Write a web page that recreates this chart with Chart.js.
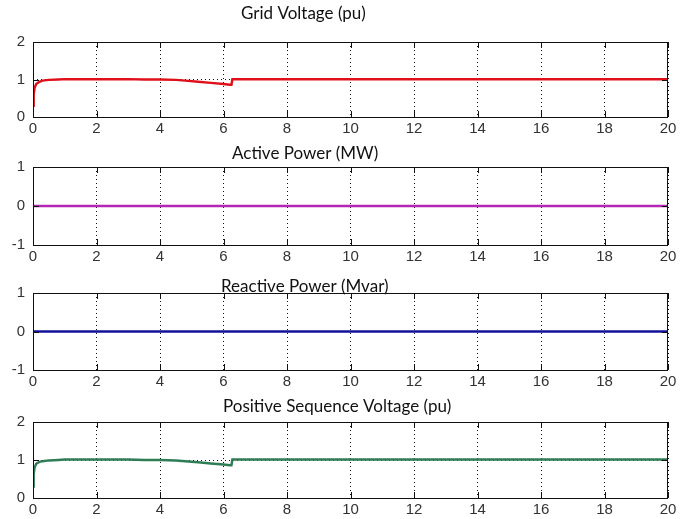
<!DOCTYPE html>
<html>
<head>
<meta charset="utf-8">
<script src="https://cdn.jsdelivr.net/npm/chart.js@4/dist/chart.umd.min.js"></script>
<style>
  body { margin: 0; background: #fff; }
  #wrap { position: relative; width: 688px; height: 519px; }
  #wrap canvas { position: absolute; left: 0; }
</style>
</head>
<body>
<div id="wrap"></div>
<script>
// time axis (s)
const xTicks = [0, 2, 4, 6, 8, 10, 12, 14, 16, 18, 20];

// grid voltage
const gridTime = [0, 0.02, 0.05, 0.1, 0.2, 0.3, 0.5, 0.8, 1.0, 2, 3, 3.5, 4, 4.5, 4.8, 5.2, 5.6, 6.0, 6.2, 6.25, 6.28, 8, 20];
const gridVoltage = [0.3, 0.6, 0.78, 0.88, 0.94, 0.97, 0.99, 1.0, 1.01, 1.01, 1.01, 1.0, 1.0, 0.99, 0.97, 0.94, 0.91, 0.88, 0.86, 0.86, 1.01, 1.01, 1.01];

// active / reactive power stay at zero
const powerTime = [0, 20];
const activePower = [0, 0];
const reactivePower = [0, 0];

// positive sequence voltage, bottom panel
const posTime = [0, 0.02, 0.05, 0.1, 0.2, 0.3, 0.5, 0.8, 1.0, 2, 3, 3.5, 4, 4.5, 4.8, 5.2, 5.6, 6.0, 6.2, 6.25, 6.28, 8, 20];
const posVoltage = [0.3, 0.62, 0.8, 0.9, 0.95, 0.97, 0.99, 1.0, 1.01, 1.01, 1.01, 1.0, 1.0, 0.99, 0.97, 0.94, 0.91, 0.88, 0.86, 0.86, 1.01, 1.01, 1.01];

const titles = ["Grid Voltage (pu)", "Active Power (MW)", "Reactive Power (Mvar)", "Positive Sequence Voltage (pu)"];

const panels = [
  { x: gridTime, y: gridVoltage, color: "#e0101a", yMin: 0, yMax: 2, plotTop: 42, plotBottom: 117, canvasTop: 0, titleX: 241, titleY: 14 },
  { x: powerTime, y: activePower, color: "#b526b5", yMin: -1, yMax: 1, plotTop: 167, plotBottom: 245, canvasTop: 127, titleX: 232, titleY: 154 },
  { x: powerTime, y: reactivePower, color: "#10109a", yMin: -1, yMax: 1, plotTop: 293, plotBottom: 370, canvasTop: 253, titleX: 221, titleY: 287 },
  { x: posTime, y: posVoltage, color: "#2e7d55", yMin: 0, yMax: 2, plotTop: 422, plotBottom: 498, canvasTop: 382, titleX: 223, titleY: 407 }
];

const tickFont = { family: "'Liberation Sans', Arial, sans-serif", size: 15 };

// frame box with inward tick marks, MATLAB style
const framePlugin = {
  id: "frame",
  afterDraw(chart, args, opts) {
    const { ctx, chartArea: a, scales } = chart;
    ctx.save();
    ctx.strokeStyle = "#111";
    ctx.lineWidth = 1;
    ctx.strokeRect(a.left + 0.5, a.top + 0.5, a.right - a.left - 1, a.bottom - a.top);
    ctx.beginPath();
    scales.x.ticks.forEach(t => {
      const px = Math.round(scales.x.getPixelForValue(t.value)) + 0.5;
      ctx.moveTo(px, a.top); ctx.lineTo(px, a.top + 6);
      ctx.moveTo(px, a.bottom); ctx.lineTo(px, a.bottom - 6);
    });
    scales.y.ticks.forEach(t => {
      const py = Math.round(scales.y.getPixelForValue(t.value)) + 0.5;
      ctx.moveTo(a.left, py); ctx.lineTo(a.left + 6, py);
      ctx.moveTo(a.right, py); ctx.lineTo(a.right - 6, py);
    });
    ctx.stroke();
    ctx.fillStyle = "#111";
    ctx.font = "17px Lato, 'Open Sans', sans-serif";
    ctx.textBaseline = "middle";
    ctx.textAlign = "left";
    ctx.fillText(opts.text, opts.x, opts.y);
    ctx.restore();
  }
};

const wrap = document.getElementById("wrap");

panels.forEach((p, i) => {
  const cv = document.createElement("canvas");
  const padTop = p.plotTop - p.canvasTop;
  const h = padTop + (p.plotBottom - p.plotTop) + 22;
  cv.style.top = p.canvasTop + "px";
  cv.width = 688;
  cv.height = h;
  cv.style.width = "688px";
  cv.style.height = h + "px";
  wrap.appendChild(cv);

  new Chart(cv.getContext("2d"), {
    type: "line",
    data: {
      datasets: [{
        data: p.x.map((t, k) => ({ x: t, y: p.y[k] })),
        borderColor: p.color,
        borderWidth: 2.5,
        pointRadius: 0,
        tension: 0,
        fill: false
      }]
    },
    options: {
      responsive: false,
      animation: false,
      layout: { padding: { top: padTop, right: 20, left: 0, bottom: 0 } },
      plugins: {
        legend: { display: false },
        tooltip: { enabled: false },
        frame: { text: titles[i], x: p.titleX, y: p.titleY - p.canvasTop }
      },
      scales: {
        x: {
          type: "linear",
          min: 0,
          max: 20,
          afterBuildTicks: s => { s.ticks = xTicks.map(v => ({ value: v })); },
          afterFit: s => { s.height = 22; },
          grid: { color: "#111", drawTicks: false, lineWidth: 1 },
          border: { display: false, dash: [1, 3] },
          ticks: { color: "#333", font: tickFont, padding: 3, maxRotation: 0 }
        },
        y: {
          min: p.yMin,
          max: p.yMax,
          ticks: { stepSize: 1, color: "#333", font: tickFont, padding: 8 },
          afterFit: s => { s.width = 33; },
          grid: {
            color: ctx => (ctx.tick && (ctx.tick.value === p.yMin || ctx.tick.value === p.yMax)) ? "rgba(0,0,0,0)" : "#111",
            drawTicks: false, lineWidth: 1
          },
          border: { display: false, dash: [1, 3] }
        }
      }
    },
    plugins: [framePlugin]
  });
});
</script>
</body>
</html>
